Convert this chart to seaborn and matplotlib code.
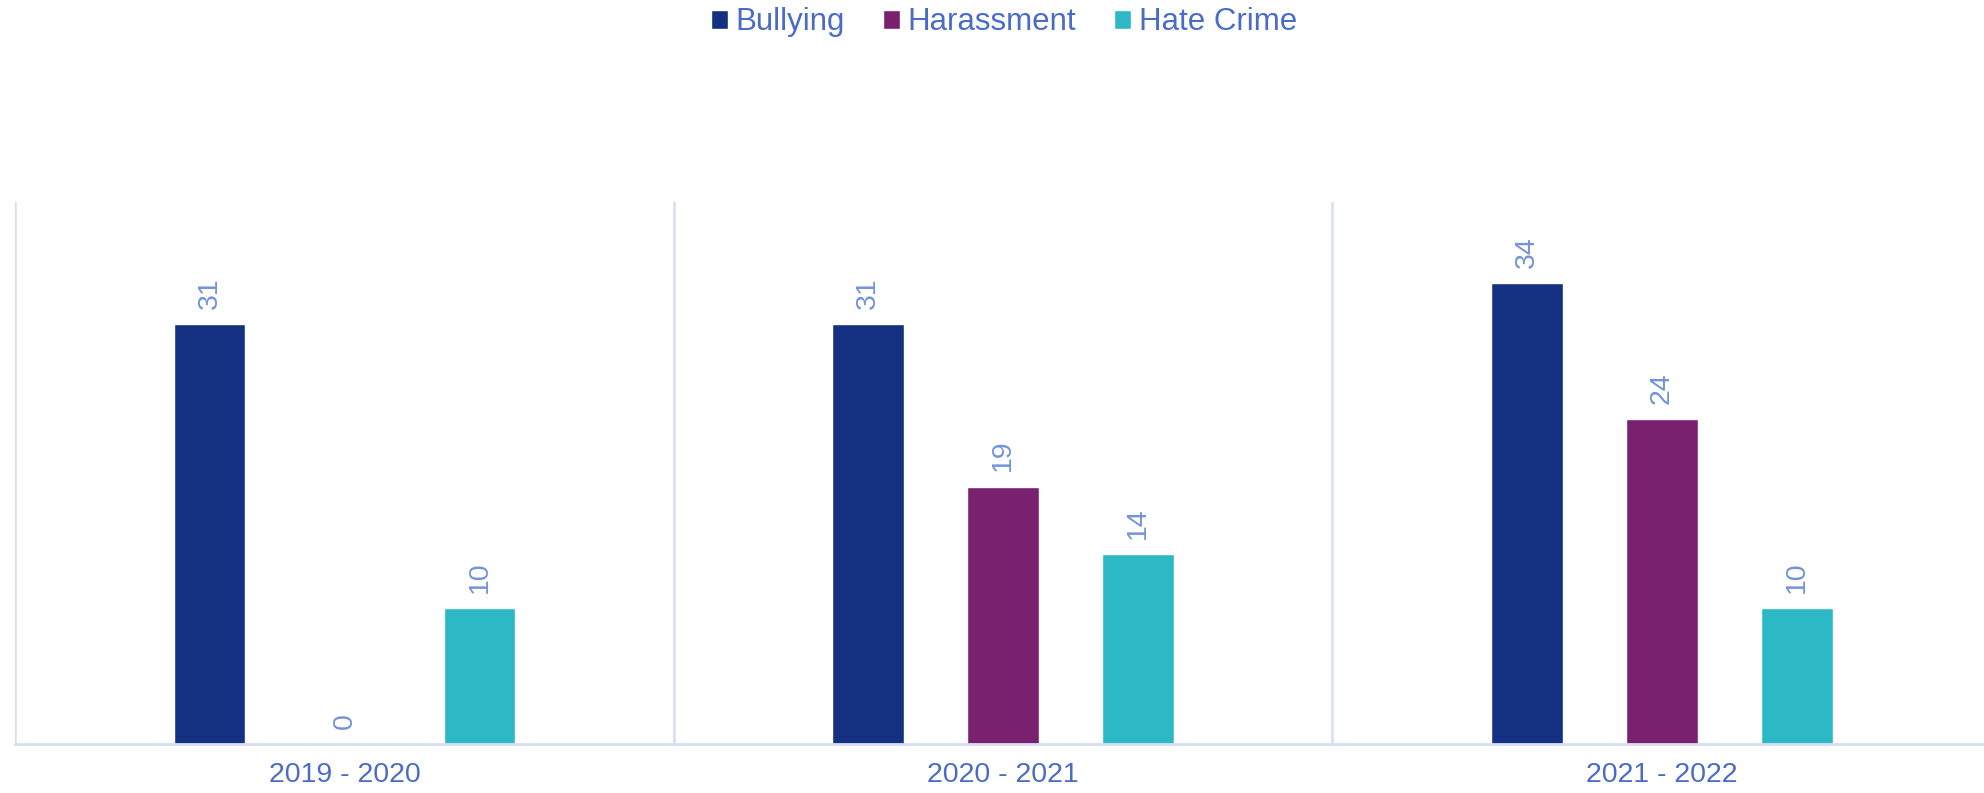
import matplotlib
matplotlib.use("Agg")
import matplotlib.pyplot as plt
import seaborn as sns
import pandas as pd

periods = ["2019 - 2020", "2020 - 2021", "2021 - 2022"]
bullying = [31, 31, 34]
harassment = [0, 19, 24]
hate_crime = [10, 14, 10]
series_names = ["Bullying", "Harassment", "Hate Crime"]
colors = ["#133180", "#79206f", "#2cb8c5"]

rows = []
for name, vals in zip(series_names, [bullying, harassment, hate_crime]):
    for p, v in zip(periods, vals):
        rows.append({"period": p, "type": name, "value": v})
df = pd.DataFrame(rows)

sns.set_theme(style="white")
plt.rcParams["font.family"] = ["Liberation Sans", "DejaVu Sans"]

fig = plt.figure(figsize=(19.84, 7.93), dpi=100)
ax = fig.add_axes([0.0076, 0.0618, 0.996, 0.6835])

sns.barplot(data=df, x="period", y="value", hue="type", order=periods,
            hue_order=series_names, palette=colors, width=0.615, gap=0.47,
            ax=ax, saturation=1, errorbar=None)

for c in ax.containers:
    ax.bar_label(c, labels=[f"{int(v)}" for v in c.datavalues], rotation=90,
                 padding=11, color="#7393d9", fontsize=20.5)

ax.set_xlim(-0.5, 2.5)
ax.set_ylim(0, 40)
ax.set_xlabel("")
ax.set_ylabel("")
ax.set_yticks([])
ax.tick_params(axis="x", length=0, pad=13, labelsize=20.5, labelcolor="#4b6cc6")

line_c = "#d6dff2"
for x in [-0.5, 0.5, 1.5]:
    ax.axvline(x, color=line_c, lw=1.8, zorder=0)
for s in ["top", "right", "left"]:
    ax.spines[s].set_visible(False)
ax.spines["bottom"].set_color(line_c)
ax.spines["bottom"].set_linewidth(2)

handles, labels = ax.get_legend_handles_labels()
if ax.legend_:
    ax.legend_.remove()
fig.legend(handles, labels, loc="center", bbox_to_anchor=(0.506, 0.972), ncol=3,
           frameon=False, fontsize=22.5, labelcolor="#4b6cc6", handlelength=0.55,
           handleheight=0.55, handletextpad=0.25, columnspacing=1.2)

fig.savefig("out.png", dpi=100)
